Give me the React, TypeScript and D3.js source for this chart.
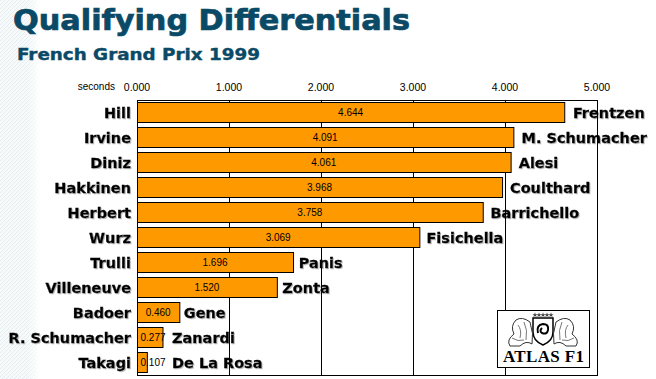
import React from "react";
import * as d3 from "d3";

const leftDrivers = ["Hill", "Irvine", "Diniz", "Hakkinen", "Herbert", "Wurz", "Trulli", "Villeneuve", "Badoer", "R. Schumacher", "Takagi"];
const rightDrivers = ["Frentzen", "M. Schumacher", "Alesi", "Coulthard", "Barrichello", "Fisichella", "Panis", "Zonta", "Gene", "Zanardi", "De La Rosa"];
const differentials = [4.644, 4.091, 4.061, 3.968, 3.758, 3.069, 1.696, 1.52, 0.46, 0.277, 0.107];
const tickValues = [0, 1, 2, 3, 4, 5];

const W = 656;
const H = 379;
const plot = { left: 137, right: 597, top: 100, bottom: 375 };
const titleColor = "#0a4a66";
const barColor = "#ff9900";
const plainFont = "'Liberation Sans', Arial, sans-serif";
const heavyFont = "'DejaVu Sans', Verdana, sans-serif";

export default function App() {
  const x = d3.scaleLinear().domain([0, 5]).range([plot.left, plot.right]);
  const y = d3
    .scaleBand<number>()
    .domain(d3.range(leftDrivers.length))
    .range([plot.top - 0.5, plot.bottom - 0.5])
    .paddingInner(0.2)
    .paddingOuter(0.1);
  const fmt = d3.format(".3f");
  const bw = y.bandwidth();

  return (
    <svg width={W} height={H} style={{ position: "absolute", left: 0, top: 0, background: "#fff" }}>
      <defs>
        <pattern id="tex" width="4" height="4" patternUnits="userSpaceOnUse">
          <rect width="4" height="4" fill="#f7fafa" />
          <rect x="0" y="0" width="1" height="1" fill="#e2eaee" />
          <rect x="2" y="2" width="1" height="1" fill="#e2eaee" />
          <rect x="3" y="1" width="1" height="1" fill="#eaf0f2" />
          <rect x="1" y="3" width="1" height="1" fill="#eaf0f2" />
        </pattern>
        <filter id="shadow" x="-5%" y="-20%" width="115%" height="150%">
          <feDropShadow dx="1" dy="1" stdDeviation="0.6" floodColor="#777" floodOpacity="0.5" />
        </filter>
        <linearGradient id="fade" x1="0" x2="1" y1="0" y2="0">
          <stop offset="0" stopColor="#fff" stopOpacity="0" />
          <stop offset="1" stopColor="#fff" stopOpacity="1" />
        </linearGradient>
      </defs>

      <rect x={0} y={0} width={38} height={H} fill="url(#tex)" />
      <rect x={28} y={0} width={12} height={H} fill="url(#fade)" />

      {/* Titles */}
      <text x={13} y={30} fontFamily={heavyFont} fontWeight="bold" fontSize={27.5} fill={titleColor} stroke={titleColor} strokeWidth={0.7} textLength={397} lengthAdjust="spacingAndGlyphs">
        Qualifying Differentials
      </text>
      <text x={17} y={60} fontFamily={heavyFont} fontWeight="bold" fontSize={16} fill={titleColor} stroke={titleColor} strokeWidth={0.4} textLength={243} lengthAdjust="spacingAndGlyphs">
        French Grand Prix 1999
      </text>

      {/* Axis labels */}
      <text x={115} y={90} fontFamily={plainFont} fontSize={10} textAnchor="end" fill="#000">
        seconds
      </text>
      {tickValues.map((t) => (
        <text key={t} x={x(t)} y={91} fontFamily={plainFont} fontSize={10.5} textAnchor="middle" fill="#000">
          {fmt(t)}
        </text>
      ))}

      {/* Right-hand labels */}
      {rightDrivers.map((name, i) => {
        const v = differentials[i];
        const lx = Math.max(x(v) + 4 + v, x(0) + 35);
        return (
          <text key={name} x={lx} y={(y(i) as number) + bw / 2 + 5.5} fontFamily={heavyFont} fontWeight="bold" fontSize={14.5} fill="#000" stroke="#000" strokeWidth={0.3} filter="url(#shadow)">
            {name}
          </text>
        );
      })}

      {/* Gridlines */}
      {tickValues.slice(1, -1).map((t) => (
        <line key={t} x1={x(t) + 0.5} x2={x(t) + 0.5} y1={plot.top} y2={plot.bottom} stroke="#000" strokeWidth={1} />
      ))}

      {/* Bars */}
      {differentials.map((v, i) => (
        <rect key={i} x={x(0) + 0.5} y={(y(i) as number) + 0.5} width={x(v) - x(0)} height={bw} fill={barColor} stroke="#000" strokeWidth={1} />
      ))}

      {/* Value labels */}
      {differentials.map((v, i) => {
        const mid = (x(0) + x(v)) / 2;
        const cx = Math.max(mid, x(0) + 16);
        return (
          <text key={i} x={cx} y={(y(i) as number) + bw / 2 + 4} fontFamily={plainFont} fontSize={10} textAnchor="middle" fill="#000">
            {fmt(v)}
          </text>
        );
      })}

      {/* Frame */}
      <rect x={plot.left + 0.5} y={plot.top + 0.5} width={plot.right - plot.left} height={plot.bottom - plot.top} fill="none" stroke="#000" strokeWidth={1} />

      {/* Left-hand labels */}
      {leftDrivers.map((name, i) => (
        <text key={name} x={131} y={(y(i) as number) + bw / 2 + 5.5} fontFamily={heavyFont} fontWeight="bold" fontSize={14.5} textAnchor="end" fill="#000" stroke="#000" strokeWidth={0.3} filter="url(#shadow)">
          {name}
        </text>
      ))}

      {/* Logo */}
      <g>
        <rect x={497.5} y={310.5} width={92} height={57} fill="#fff" stroke="#000" strokeWidth={1} />
        {d3.range(5).map((k) => (
          <path key={k} d={d3.symbol(d3.symbolStar, 9)() as string} transform={`translate(${535 + k * 4},${315})`} fill="#444" />
        ))}
        <path d="M533,318 L553,318 L553,332 Q553,341 543,345 Q533,341 533,332 Z" fill="#fff" stroke="#000" strokeWidth={1.5} />
        <path d="M538,333 Q536,325 543,324 Q549,324 548,330 Q547,335 542,333 Q539,331 542,328" fill="none" stroke="#000" strokeWidth={2} />
        <path d="M530,322 Q522,316 516,320 Q510,326 514,334 Q506,340 510,346 L520,346 Q526,340 532,344 Q534,334 530,322 Z" fill="none" stroke="#333" strokeWidth={1} />
        <path d="M518,325 Q522,330 520,338 M524,322 Q528,330 526,340 M512,338 Q518,342 524,340" fill="none" stroke="#555" strokeWidth={0.8} />
        <path d="M556,322 Q564,316 570,320 Q576,326 572,334 Q580,340 576,346 L566,346 Q560,340 554,344 Q552,334 556,322 Z" fill="none" stroke="#333" strokeWidth={1} />
        <path d="M568,325 Q564,330 566,338 M562,322 Q558,330 560,340 M574,338 Q568,342 562,340" fill="none" stroke="#555" strokeWidth={0.8} />
        <text x={543.5} y={362} fontFamily="'Liberation Serif', 'Times New Roman', serif" fontWeight="bold" fontSize={17} textAnchor="middle" fill="#000" textLength={81} lengthAdjust="spacing">
          ATLAS F1
        </text>
      </g>
    </svg>
  );
}
